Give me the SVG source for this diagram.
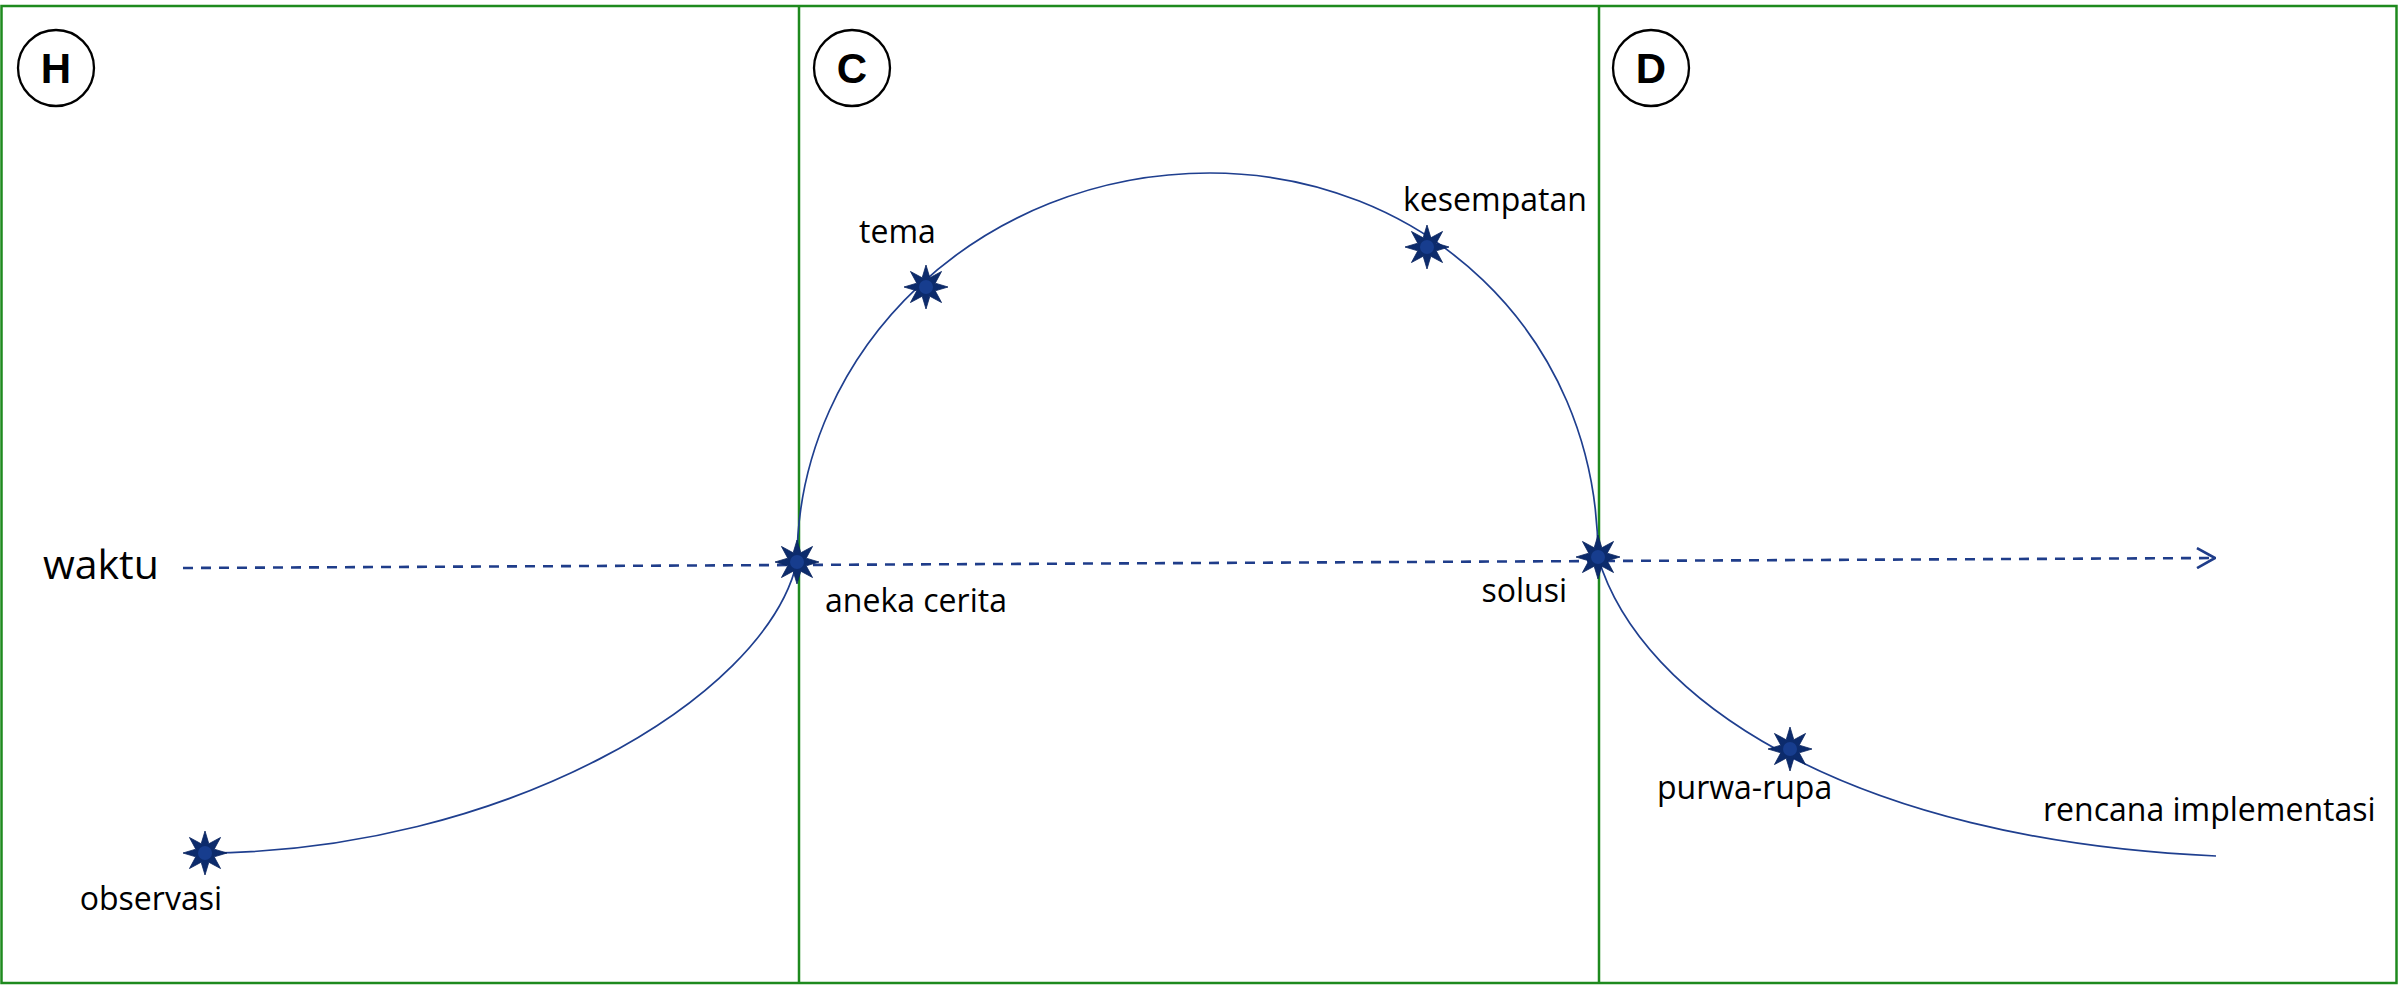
<svg xmlns="http://www.w3.org/2000/svg" width="2399" height="986" viewBox="0 0 2399 986">
<style>
.frame{fill:none;stroke:#1e8a1e;stroke-width:2.5}
.badge circle{fill:#fff;stroke:#000;stroke-width:2.3}
.badge text{font-family:"Liberation Sans",Arial,sans-serif;font-weight:bold;font-size:42px;text-anchor:middle;fill:#000}
.lbl{font-family:"Open Sans","Noto Sans",sans-serif;font-size:32px;fill:#000}
.curve{fill:none;stroke:#1f3f8f;stroke-width:1.7}
.time{fill:none;stroke:#1f3d8a;stroke-width:2.6;stroke-dasharray:10 8}
.star-poly{fill:#0c2b6c;stroke:#0a2560;stroke-width:0.8}
.star-core{fill:#173d8e}
</style>
<defs>
<g id="star">
<polygon class="star-poly" points="22,0 9.24,3.83 15.56,15.56 3.83,9.24 0,22 -3.83,9.24 -15.56,15.56 -9.24,3.83 -22,0 -9.24,-3.83 -15.56,-15.56 -3.83,-9.24 0,-22 3.83,-9.24 15.56,-15.56 9.24,-3.83"/>
<circle class="star-core" r="7"/>
</g>
<marker id="openArrow" viewBox="0 0 20 22" refX="19" refY="11" markerWidth="20" markerHeight="22" markerUnits="userSpaceOnUse" orient="auto">
<polyline points="1,1 19,11 1,21" fill="none" stroke="#1f3d8a" stroke-width="2.6"/>
</marker>
</defs>
<rect width="2399" height="986" fill="#fff"/>
<g id="frame">
<rect class="frame" x="1.5" y="6" width="2395" height="977"/>
<line class="frame" x1="799" y1="6" x2="799" y2="983"/>
<line class="frame" x1="1599" y1="6" x2="1599" y2="983"/>
</g>
<g id="badge-H" class="badge"><circle cx="56" cy="68" r="38"/><text x="56" y="83">H</text></g>
<g id="badge-C" class="badge"><circle cx="852" cy="68" r="38"/><text x="852" y="83">C</text></g>
<g id="badge-D" class="badge"><circle cx="1651" cy="68" r="38"/><text x="1651" y="83">D</text></g>
<g id="connectors">
<path class="time" d="M183 568 L2215 558" marker-end="url(#openArrow)"/>
<path class="curve" d="M205 853 C500 852 765 700 797 562"/>
<path class="curve" d="M797 562 C797 347 982 173 1210 173 C1420 173 1598 330 1598 557"/>
<path class="curve" d="M1598 557 C1640 700 1850 840 2216 856"/>
</g>
<g id="waktu"><text class="lbl" x="43" y="579" style="font-size:41px">waktu</text></g>
<g id="observasi"><use href="#star" x="205" y="853"/><text class="lbl" x="222" y="910" text-anchor="end">observasi</text></g>
<g id="aneka-cerita"><use href="#star" x="797" y="562"/><text class="lbl" x="825" y="612">aneka cerita</text></g>
<g id="tema"><use href="#star" x="926" y="287"/><text class="lbl" x="859" y="243">tema</text></g>
<g id="kesempatan"><use href="#star" x="1427" y="247"/><text class="lbl" x="1403" y="211">kesempatan</text></g>
<g id="solusi"><use href="#star" x="1598" y="557"/><text class="lbl" x="1567" y="602" text-anchor="end">solusi</text></g>
<g id="purwa-rupa"><use href="#star" x="1790" y="749"/><text class="lbl" x="1657" y="799">purwa-rupa</text></g>
<g id="rencana-implementasi"><text class="lbl" x="2043" y="821">rencana implementasi</text></g>
</svg>
